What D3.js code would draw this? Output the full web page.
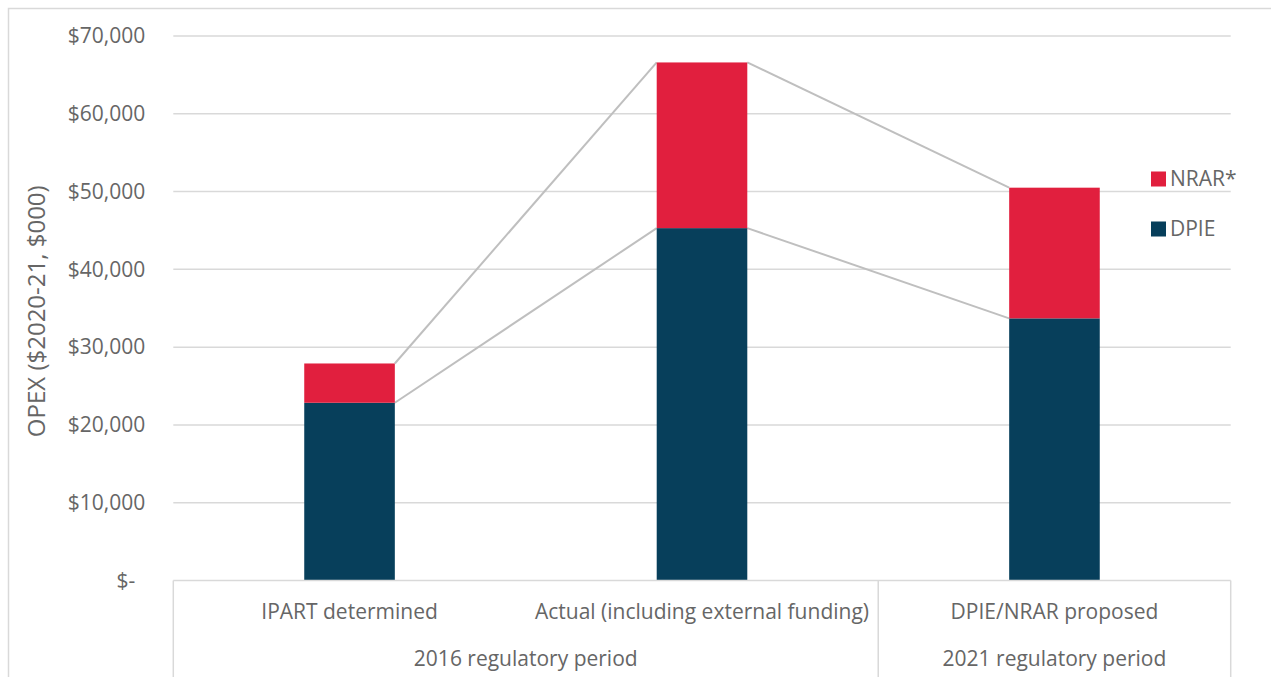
<!DOCTYPE html>
<html>
<head>
<meta charset="utf-8">
<script src="https://cdn.jsdelivr.net/npm/d3@7"></script>
<style>
  body { margin: 0; background: #fff; }
  text { font-family: "Open Sans", "Noto Sans", sans-serif; fill: #666666; }
</style>
</head>
<body>
<div id="container"></div>
<script>
const width = 1271,
  height = 677,
  margin = {top: 36, bottom: 96.5, left: 173.3, right: 40.3};

// data
const categories = ["IPART determined", "Actual (including external funding)", "DPIE/NRAR proposed"];
const periods = ["2016 regulatory period", "2016 regulatory period", "2021 regulatory period"];
const dpie = [22850, 45300, 33700];
const nrar = [5050, 21300, 16800];
const seriesNames = ["DPIE", "NRAR*"];
const yTicks = [0, 10000, 20000, 30000, 40000, 50000, 60000, 70000];
const yTickLabels = ["$-", "$10,000", "$20,000", "$30,000", "$40,000", "$50,000", "$60,000", "$70,000"];

const rows = categories.map((c, i) => ({cat: c, period: periods[i], DPIE: dpie[i], "NRAR*": nrar[i]}));
const stacked = d3.stack().keys(seriesNames)(rows);

const svg = d3.select("#container")
  .append("svg")
  .attr("width", width)
  .attr("height", height);

// outer chart border
svg.append("path")
  .attr("d", `M8.5,${height} V8.5 H${width}`)
  .attr("fill", "none")
  .attr("stroke", "#d9d9d9")
  .attr("stroke-width", 1.5);

const xScale = d3.scaleBand()
  .domain(categories)
  .range([margin.left, width - margin.right])
  .paddingInner(0.743)
  .paddingOuter(0.3715);

const yScale = d3.scaleLinear()
  .domain([0, 70000])
  .range([height - margin.bottom, margin.top]);

const colorScale = d3.scaleOrdinal()
  .domain(seriesNames)
  .range(["#073f5b", "#e11f3e"]);

// gridlines
svg.append("g")
  .selectAll("line")
  .data(yTicks.filter(d => d > 0))
  .join("line")
  .attr("x1", margin.left)
  .attr("x2", width - margin.right)
  .attr("y1", d => yScale(d))
  .attr("y2", d => yScale(d))
  .attr("stroke", "#d9d9d9")
  .attr("stroke-width", 1.5);

// y axis labels
const yAxis = d3.axisLeft(yScale)
  .tickValues(yTicks)
  .tickSize(0)
  .tickPadding(28)
  .tickFormat((d, i) => yTickLabels[i]);

const yAxisGroup = svg.append("g")
  .attr("transform", `translate(${margin.left},0)`)
  .call(yAxis);
yAxisGroup.select(".domain").remove();
yAxisGroup.selectAll("text")
  .attr("font-size", 21)
  .attr("font-family", null)
  .attr("fill", "#666666")
  .attr("dx", (d, i) => i === 0 ? -10 : 0);

// y title
svg.append("text")
  .attr("transform", `translate(45,${(yScale(0) + yScale(70000)) / 2 + 3}) rotate(-90)`)
  .attr("text-anchor", "middle")
  .attr("font-size", 24)
  .text("OPEX ($2020-21, $000)");

// connector lines between stacked tops
const bw = xScale.bandwidth();
stacked.forEach(layer => {
  const pts = [];
  layer.forEach(d => {
    pts.push([xScale(d.data.cat), yScale(d[1])]);
    pts.push([xScale(d.data.cat) + bw, yScale(d[1])]);
  });
  for (let i = 1; i < pts.length - 1; i += 2) {
    svg.append("line")
      .attr("x1", pts[i][0]).attr("y1", pts[i][1])
      .attr("x2", pts[i + 1][0]).attr("y2", pts[i + 1][1])
      .attr("stroke", "#bfbfbf")
      .attr("stroke-width", 2);
  }
});

// bars
svg.append("g")
  .selectAll("g")
  .data(stacked)
  .join("g")
  .attr("fill", d => colorScale(d.key))
  .selectAll("rect")
  .data(d => d)
  .join("rect")
  .attr("x", d => xScale(d.data.cat))
  .attr("width", bw)
  .attr("y", d => yScale(d[1]))
  .attr("height", d => yScale(d[0]) - yScale(d[1]));

// category axis as table
const y0 = yScale(0);
const step = xScale.step();
const firstLeft = xScale(categories[0]) + bw / 2 - step / 2;
const lastRight = xScale(categories[categories.length - 1]) + bw / 2 + step / 2;
const axisG = svg.append("g").attr("stroke", "#d9d9d9").attr("stroke-width", 1.5).attr("fill", "none");
axisG.append("line").attr("x1", firstLeft).attr("x2", lastRight).attr("y1", y0).attr("y2", y0);

// group boundaries
const groups = [];
rows.forEach((r, i) => {
  const cx = xScale(r.cat) + bw / 2;
  if (!groups.length || groups[groups.length - 1].name !== r.period) {
    groups.push({name: r.period, x0: cx - step / 2, x1: cx + step / 2});
  } else {
    groups[groups.length - 1].x1 = cx + step / 2;
  }
});
const bounds = [groups[0].x0].concat(groups.map(g => g.x1));
axisG.selectAll("line.v")
  .data(bounds)
  .join("line")
  .attr("class", "v")
  .attr("x1", d => d).attr("x2", d => d)
  .attr("y1", y0).attr("y2", height);

svg.append("g")
  .selectAll("text")
  .data(categories)
  .join("text")
  .attr("x", d => xScale(d) + bw / 2)
  .attr("y", y0 + 31)
  .attr("dy", "0.35em")
  .attr("text-anchor", "middle")
  .attr("font-size", 21)
  .text(d => d);

svg.append("g")
  .selectAll("text")
  .data(groups)
  .join("text")
  .attr("x", d => (d.x0 + d.x1) / 2)
  .attr("y", y0 + 78)
  .attr("dy", "0.35em")
  .attr("text-anchor", "middle")
  .attr("font-size", 21)
  .text(d => d.name);

// legend
const legendItems = seriesNames.slice().reverse();
const legend = svg.append("g")
  .selectAll("g")
  .data(legendItems)
  .join("g")
  .attr("transform", (d, i) => `translate(1151,${179 + i * 50})`);
legend.append("rect")
  .attr("x", 0).attr("y", -7.5)
  .attr("width", 15).attr("height", 15)
  .attr("fill", d => colorScale(d));
legend.append("text")
  .attr("x", 19)
  .attr("dy", "0.35em")
  .attr("font-size", 21)
  .text(d => d);
</script>
</body>
</html>
